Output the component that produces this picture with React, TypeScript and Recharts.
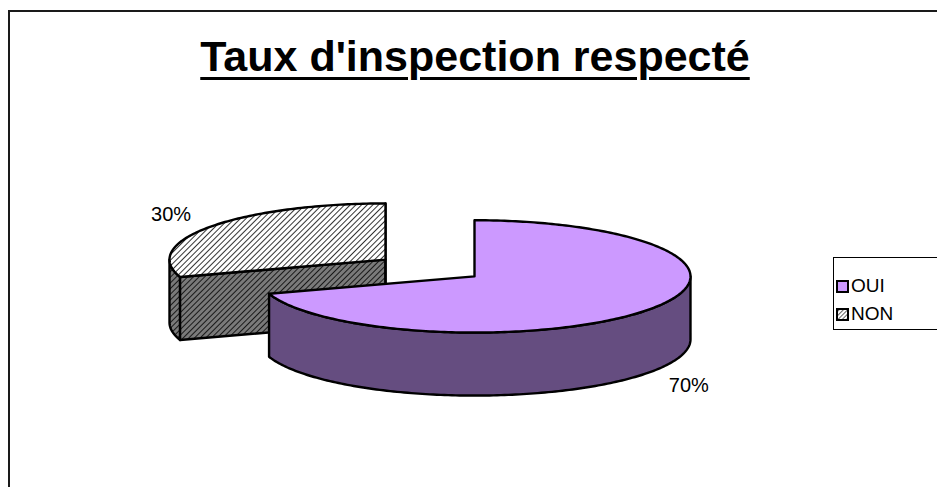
import React from 'react';
import { PieChart, Pie, Legend } from 'recharts';

const TITLE = "Taux d'inspection respecté";
const categories = ['OUI', 'NON'];
const values = [70, 30];

const TOP_FILL: Record<string, string> = { OUI: '#CC99FF', NON: 'url(#hatchTop)' };
const SIDE_FILL: Record<string, string> = { OUI: '#654D80', NON: 'url(#hatchSide)' };

const K = 0.26; // vertical squash of the pie plane
const DEPTH = 63;
const EXPLODE = 55;
const RAD = Math.PI / 180;

const total = values.reduce((a, b) => a + b, 0);
// draw back slice (NON) first so OUI is painted over it
const pieData = [1, 0].map((i) => ({ name: categories[i], value: values[i] }));
const START = 90 + (360 * values[1]) / total;

function pts(list: number[][]) {
  return list.map((p) => `${p[0].toFixed(2)},${p[1].toFixed(2)}`).join(' ');
}

function Slice3D(props: any) {
  const { cx, cy, outerRadius, startAngle, endAngle } = props;
  const name = props.name ?? props.payload?.name;
  const mid = props.midAngle ?? (startAngle + endAngle) / 2;
  const rx = outerRadius;
  const ry = outerRadius * K;
  const ox = cx + EXPLODE * Math.cos(mid * RAD);
  const oy = cy - EXPLODE * K * Math.sin(mid * RAD);
  const lo = Math.min(startAngle, endAngle);
  const hi = Math.max(startAngle, endAngle);
  const P = (a: number, dy = 0) => [ox + rx * Math.cos(a * RAD), oy - ry * Math.sin(a * RAD) + dy];
  const arc = (a1: number, a2: number, dy = 0) => {
    const n = Math.max(2, Math.ceil(Math.abs(a2 - a1)));
    const out: number[][] = [];
    for (let i = 0; i <= n; i++) out.push(P(a1 + ((a2 - a1) * i) / n, dy));
    return out;
  };
  const rims: number[][][] = [];
  for (let k = -2; k <= 2; k++) {
    const b1 = Math.max(lo, 180 + 360 * k);
    const b2 = Math.min(hi, 360 + 360 * k);
    if (b2 > b1) rims.push([...arc(b1, b2), ...arc(b2, b1, DEPTH)]);
  }
  const faces: number[][][] = [];
  if (Math.cos(hi * RAD) < 0) {
    const p = P(hi);
    faces.push([[ox, oy], p, [p[0], p[1] + DEPTH], [ox, oy + DEPTH]]);
  }
  if (Math.cos(lo * RAD) > 0) {
    const p = P(lo);
    faces.push([[ox, oy], p, [p[0], p[1] + DEPTH], [ox, oy + DEPTH]]);
  }
  const top = [[ox, oy], ...arc(lo, hi)];
  const common = { stroke: '#000', strokeWidth: 2.4, strokeLinejoin: 'round' as const };
  return (
    <g>
      {rims.map((r, i) => (
        <polygon key={'r' + i} points={pts(r)} fill={SIDE_FILL[name]} {...common} />
      ))}
      {faces.map((f, i) => (
        <polygon key={'f' + i} points={pts(f)} fill={SIDE_FILL[name]} {...common} />
      ))}
      <polygon points={pts(top)} fill={TOP_FILL[name]} {...common} />
    </g>
  );
}

function renderLabel(props: any) {
  const { cx, cy, outerRadius, percent } = props;
  const mid = props.midAngle;
  const rx = outerRadius;
  const ry = outerRadius * K;
  const ox = cx + EXPLODE * Math.cos(mid * RAD);
  const oy = cy - EXPLODE * K * Math.sin(mid * RAD);
  const s = Math.sin(mid * RAD);
  const x = ox + (rx + 49) * Math.cos(mid * RAD);
  const y = oy - (ry + 22) * s + (s < 0 ? DEPTH : 0);
  return (
    <text
      x={x}
      y={y}
      textAnchor="middle"
      dominantBaseline="central"
      fontFamily="'Liberation Sans', Arial, sans-serif"
      fontSize={20}
      fill="#000"
    >
      {`${Math.round(percent * 100)}%`}
    </text>
  );
}

function LegendBox() {
  return (
    <div
      style={{
        border: '1px solid #000',
        background: '#fff',
        width: 130,
        height: 73,
        boxSizing: 'border-box',
        paddingTop: 14,
        paddingLeft: 2,
        fontFamily: "'Liberation Sans', Arial, sans-serif",
        fontSize: 19,
        color: '#000',
      }}
    >
      {categories.map((c) => (
        <div key={c} style={{ display: 'flex', alignItems: 'center', height: 28 }}>
          <svg width={13} height={13} style={{ marginRight: 2 }}>
            <rect x={1} y={1} width={11} height={11} fill={c === 'OUI' ? '#CC99FF' : 'url(#hatchLegend)'} stroke="#000" strokeWidth={2} />
          </svg>
          <span>{c}</span>
        </div>
      ))}
    </div>
  );
}

export default function App() {
  return (
    <div style={{ position: 'absolute', left: 0, top: 0, width: 937, height: 487, overflow: 'hidden', background: '#fff' }}>
      <svg width={0} height={0} style={{ position: 'absolute' }}>
        <defs>
          <pattern id="hatchTop" patternUnits="userSpaceOnUse" width={4} height={4} patternTransform="rotate(45)">
            <rect width={4} height={4} fill="#fff" />
            <line x1={0} y1={0} x2={0} y2={4} stroke="#000" strokeWidth={1.6} />
          </pattern>
          <pattern id="hatchSide" patternUnits="userSpaceOnUse" width={4} height={4} patternTransform="rotate(45)">
            <rect width={4} height={4} fill="#7a7a7a" />
            <line x1={0} y1={0} x2={0} y2={4} stroke="#000" strokeWidth={1.6} />
          </pattern>
          <pattern id="hatchLegend" patternUnits="userSpaceOnUse" width={3} height={3} patternTransform="rotate(45)">
            <rect width={3} height={3} fill="#fff" />
            <line x1={0} y1={0} x2={0} y2={3} stroke="#000" strokeWidth={1.2} />
          </pattern>
        </defs>
      </svg>
      <div
        style={{
          position: 'absolute',
          left: 8,
          top: 10,
          width: 2000,
          height: 2000,
          borderLeft: '2px solid #1a1a1a',
          borderTop: '2px solid #1a1a1a',
        }}
      />
      <div style={{ position: 'absolute', left: 0, top: 0 }}>
        <PieChart width={937} height={487} margin={{ top: 0, right: 0, bottom: 0, left: 0 }}>
          <Pie
            data={pieData}
            dataKey="value"
            nameKey="name"
            cx={430}
            cy={268}
            outerRadius={216}
            startAngle={START}
            endAngle={START - 360}
            isAnimationActive={false}
            shape={Slice3D}
            inactiveShape={Slice3D}
            activeShape={Slice3D}
            label={renderLabel}
            labelLine={false}
            stroke="#000"
          />
          <Legend
            layout="vertical"
            align="right"
            verticalAlign="middle"
            content={() => <LegendBox />}
            wrapperStyle={{ position: 'absolute', left: 833, top: 257, width: 140 }}
          />
        </PieChart>
      </div>
      <div
        style={{
          position: 'absolute',
          left: 0,
          top: 35,
          width: 950,
          textAlign: 'center',
          fontFamily: "'Liberation Sans', Arial, sans-serif",
          fontWeight: 'bold',
          fontSize: 43,
          lineHeight: '43px',
          color: '#000',
          textDecoration: 'underline',
          textDecorationThickness: '3px',
          textUnderlineOffset: '6px',
          whiteSpace: 'nowrap',
        }}
      >
        {TITLE}
      </div>
    </div>
  );
}
